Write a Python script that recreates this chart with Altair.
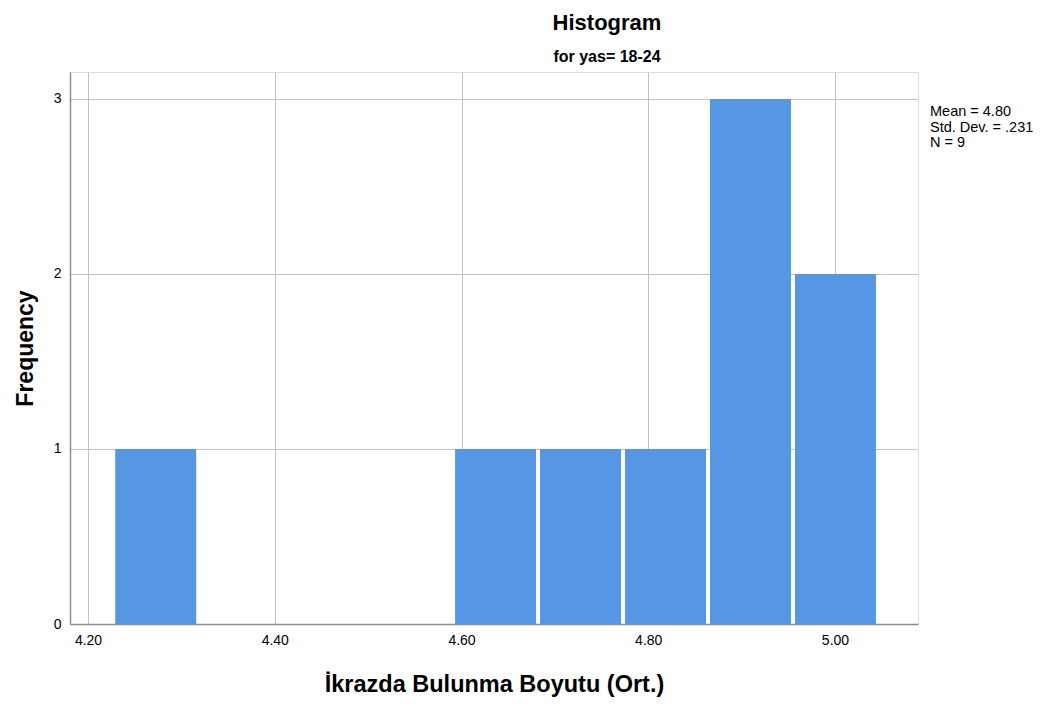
import altair as alt
import pandas as pd

# Histogram bins
bin_start = [4.227, 4.591, 4.682, 4.773, 4.864, 4.955]
bin_end = [4.318, 4.682, 4.773, 4.864, 4.955, 5.046]
counts = [1, 1, 1, 1, 3, 2]

x_ticks = [4.20, 4.40, 4.60, 4.80, 5.00]
y_ticks = [0, 1, 2, 3]
stats_lines = ["Mean = 4.80", "Std. Dev. = .231", "N = 9"]

df = pd.DataFrame({"start": bin_start, "end": bin_end, "count": counts})

FONT = "Liberation Sans"
BAR = "#5596E5"

x_scale = alt.Scale(domain=[4.1807, 5.0889], nice=False, zero=False)
y_scale = alt.Scale(domain=[0, 3.154], nice=False)

bars = alt.Chart(df).mark_rect(color=BAR, xOffset=2, x2Offset=-2).encode(
    x=alt.X("start:Q", scale=x_scale,
            axis=alt.Axis(values=x_ticks, format=".2f", title="İkrazda Bulunma Boyutu (Ort.)",
                          grid=True, gridColor="#c2c2c2", gridWidth=1,
                          domainColor="#8f8f8f", domainWidth=1.5, ticks=False,
                          labelFont=FONT, labelFontSize=14, labelColor="#000000",
                          labelPadding=9, titleFont=FONT, titleFontSize=23.5,
                          titleFontWeight="bold", titleColor="#000000", titlePadding=25)),
    x2="end:Q",
    y=alt.Y("count:Q", scale=y_scale,
            axis=alt.Axis(values=y_ticks, format="d", title="Frequency",
                          grid=True, gridColor="#c2c2c2", gridWidth=1,
                          domainColor="#8f8f8f", domainWidth=1.5, ticks=False,
                          labelFont=FONT, labelFontSize=14, labelColor="#000000",
                          labelPadding=9, titleFont=FONT, titleFontSize=23,
                          titleFontWeight="bold", titleColor="#000000", titlePadding=16)),
    y2=alt.datum(0),
)

stats = alt.Chart(alt.Data(values=[{}])).mark_text(
    text=stats_lines, align="left", baseline="alphabetic", font=FONT, fontSize=14.5,
    lineHeight=15.5, color="#000000",
).encode(x=alt.value(860), y=alt.value(44))

chart = alt.layer(bars, stats).properties(
    width=848,
    height=552,
    autosize=alt.AutoSizeParams(type="none"),
    padding={"left": 62, "top": 64, "right": 127, "bottom": 74},
    title=alt.TitleParams(
        text="Histogram", subtitle="for yas=  18-24", anchor="middle", frame="group",
        dx=113, offset=6, font=FONT, fontSize=22, fontWeight="bold", color="#000000",
        subtitleFont=FONT, subtitleFontSize=16, subtitleFontWeight="bold",
        subtitleColor="#000000", subtitlePadding=14,
    ),
).configure_view(stroke=None).configure(background="white")

chart.save("out.html", embed_options={"renderer": "svg", "actions": False})
